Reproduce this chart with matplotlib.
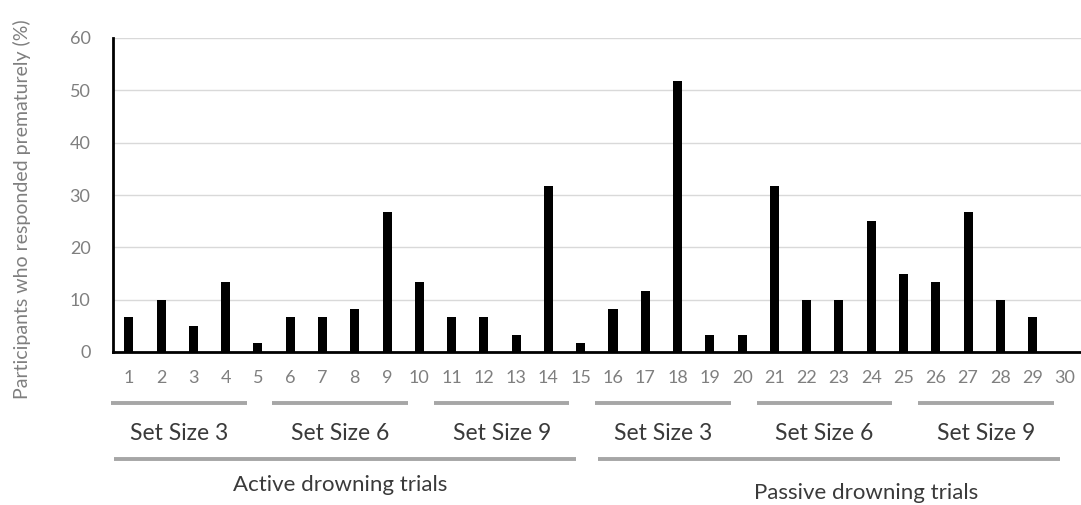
import matplotlib

matplotlib.use("Agg")
import matplotlib.pyplot as plt
from matplotlib.transforms import blended_transform_factory

trials = list(range(1, 31))
premature_pct = [6.7, 10, 5, 13.3, 1.7, 6.7, 6.7, 8.3, 26.7, 13.3,
                 6.7, 6.7, 3.3, 31.7, 1.7, 8.3, 11.7, 51.7, 3.3, 3.3,
                 31.7, 10, 10, 25, 15, 13.3, 26.7, 10, 6.7, 0]
y_ticks = [0, 10, 20, 30, 40, 50, 60]

set_labels = ["Set Size 3", "Set Size 6", "Set Size 9",
              "Set Size 3", "Set Size 6", "Set Size 9"]
set_first_trial = [1, 6, 11, 16, 21, 26]
set_last_trial = [5, 10, 15, 20, 25, 30]

cond_labels = ["Active drowning trials", "Passive drowning trials"]
cond_first_trial = [1, 16]
cond_last_trial = [15, 30]

plt.rcParams["font.family"] = ["Lato", "DejaVu Sans"]

W, H = 1081, 505
fig = plt.figure(figsize=(W / 100, H / 100), dpi=100)
ax = fig.add_axes([112.7 / W, 1 - 352 / H, 1 - 112.7 / W, (352 - 38) / H])

ax.bar(trials, premature_pct, width=0.28, color="black", zorder=3)
ax.set_xlim(0.5, 30.5)
ax.set_ylim(0, 60)
ax.set_yticks(y_ticks)
ax.set_xticks(trials)
ax.set_xticklabels([str(t) for t in trials])
ax.tick_params(axis="both", length=0, colors="#7f7f7f", labelsize=13)
ax.tick_params(axis="x", pad=13)
ax.tick_params(axis="y", pad=16)
ax.grid(axis="y", color="#d9d9d9", linewidth=1.0, zorder=0)
for side in ["top", "right"]:
    ax.spines[side].set_visible(False)
for side in ["left", "bottom"]:
    ax.spines[side].set_color("black")
    ax.spines[side].set_linewidth(2.0)
    ax.spines[side].set_zorder(4)

fig.text(22 / W, 1 - 209 / H, "Participants who responded prematurely (%)",
         rotation=90, ha="center", va="center", color="#7f7f7f", fontsize=14)

# group brackets below the axis: x in data units, y in figure fraction
trans = blended_transform_factory(ax.transData, fig.transFigure)
line_color = "#a6a6a6"
for label, first, last in zip(set_labels, set_first_trial, set_last_trial):
    x0, x1 = first - 0.55, last - 0.35
    ax.plot([x0, x1], [1 - 403 / H] * 2, transform=trans, color=line_color,
            linewidth=2.8, solid_capstyle="butt", clip_on=False)
    ax.text((x0 + x1) / 2, 1 - 433 / H, label, transform=trans, ha="center",
            va="center", color="#3a3a3a", fontsize=16.5)

# the condition captions sit a little off-centre in the original
cond_label_y = [1 - 485 / H, 1 - 493 / H]
cond_label_nudge = [-0.45, 0.85]
for label, first, last, ly, dx in zip(cond_labels, cond_first_trial, cond_last_trial,
                                      cond_label_y, cond_label_nudge):
    x0, x1 = first - 0.45, last - 0.15
    ax.plot([x0, x1], [1 - 459 / H] * 2, transform=trans, color=line_color,
            linewidth=2.8, solid_capstyle="butt", clip_on=False)
    ax.text((first + last) / 2 + dx, ly, label, transform=trans, ha="center",
            va="center", color="#3a3a3a", fontsize=16)

fig.savefig("out.png", dpi=100)
